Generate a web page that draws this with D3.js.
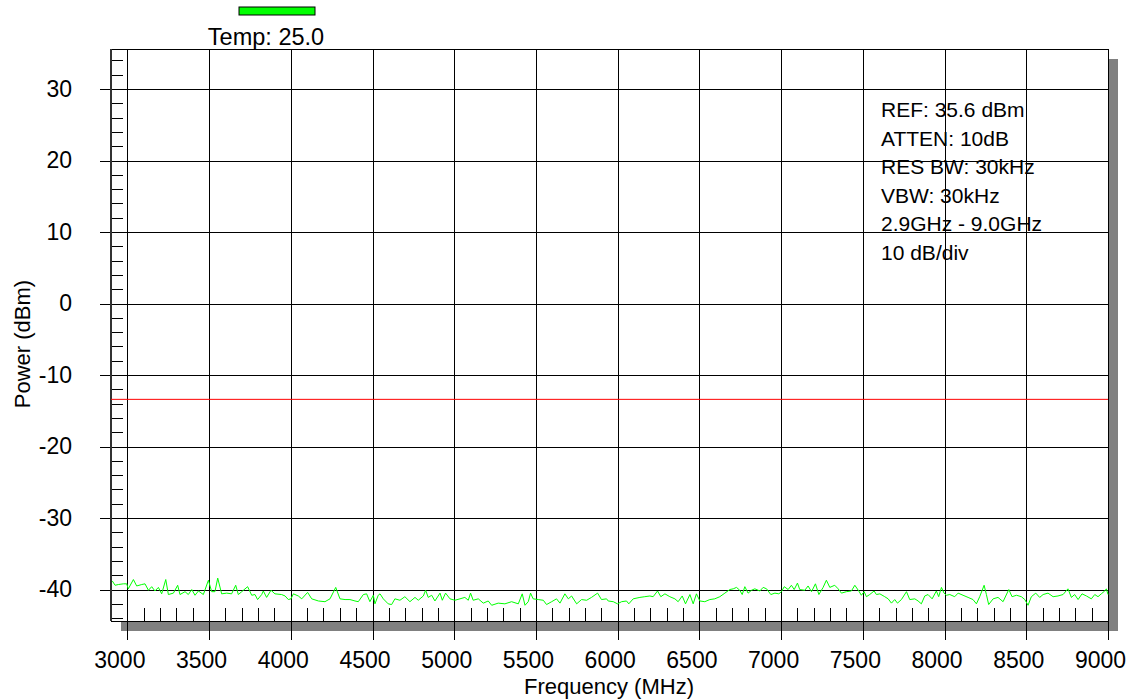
<!DOCTYPE html>
<html>
<head>
<meta charset="utf-8">
<script src="https://cdnjs.cloudflare.com/ajax/libs/d3/7.8.5/d3.min.js"></script>
<style>
  body { margin: 0; background: #fff; }
  text { font-family: "Liberation Sans", Arial, sans-serif; fill: #000; }
</style>
</head>
<body>
<div id="chart-area"></div>
<script>
// spectrum trace
var freqs = [2908, 2925, 2945, 2976, 2996, 3006, 3037, 3057, 3088, 3108, 3129, 3149, 3169, 3190, 3210, 3235,
  3251, 3282, 3308, 3322, 3353, 3373, 3394, 3414, 3435, 3465, 3496, 3516, 3536, 3553, 3577, 3608,
  3638, 3663, 3679, 3700, 3736, 3761, 3781, 3797, 3822, 3832, 3852, 3879, 3903, 3944, 3965, 3985,
  4001, 4016, 4046, 4067, 4103, 4128, 4169, 4209, 4240, 4275, 4301, 4332, 4362, 4393,
  4413, 4444, 4464, 4484, 4505, 4515, 4535, 4546, 4566, 4596, 4617, 4637, 4668, 4698, 4729, 4760,
  4780, 4811, 4825, 4841, 4862, 4882, 4913, 4927, 4947, 4974, 5004, 5035, 5065, 5086, 5100, 5116,
  5147, 5178, 5208, 5229, 5269, 5310, 5351, 5392, 5416, 5433, 5453, 5467, 5483, 5514, 5545, 5565,
  5596, 5626, 5647, 5677, 5698, 5718, 5749, 5779, 5810, 5840, 5877, 5901, 5932,
  5942, 5973, 5999, 6024, 6054, 6068, 6095, 6136, 6166, 6197, 6217, 6244, 6264, 6289, 6319, 6350,
  6370, 6395, 6415, 6442, 6462, 6482, 6503, 6533, 6564, 6594, 6625, 6656, 6686, 6707, 6727, 6747,
  6762, 6778, 6798, 6819, 6839, 6870, 6890, 6911, 6937, 6962, 6986, 7002, 7019, 7043, 7063, 7080,
  7100, 7114, 7145, 7165, 7186, 7210, 7231, 7257, 7277, 7298, 7328, 7349, 7369, 7400, 7430, 7451, 7475,
  7491, 7508, 7522, 7542, 7569, 7583, 7604, 7634, 7655, 7675, 7695, 7712, 7736, 7767, 7787, 7818,
  7838, 7858, 7879, 7899, 7924, 7950, 7964, 7981, 7997, 8011, 8032, 8062, 8083, 8113, 8144, 8174,
  8195, 8215, 8242, 8256, 8270, 8297, 8327, 8358, 8393, 8413, 8440, 8470, 8491, 8511, 8531, 8558,
  8582, 8603, 8633, 8664, 8694, 8725, 8755, 8776, 8796, 8817, 8841, 8868, 8898, 8919, 8939, 8959,
  8980, 8990, 9000];
var powers = [-38.8, -39.4, -39.3, -39.2, -39.2, -39.9, -38.6, -39.5, -39.3, -39.2, -40.1, -39.6, -40.2, -39.7, -40.6, -38.6,
  -40.7, -40.5, -39.4, -40.7, -40.3, -40.7, -40.0, -40.8, -40.2, -40.7, -38.7, -40.3, -40.3, -38.4, -40.6, -40.5,
  -40.6, -39.4, -40.7, -40.3, -39.6, -40.8, -40.7, -41.4, -40.7, -40.2, -41.1, -40.1, -40.6, -40.7, -40.9, -41.4,
  -41.3, -40.6, -40.9, -41.3, -40.4, -41.3, -41.6, -41.7, -41.3, -39.7, -41.3, -41.4, -41.4, -41.6,
  -41.7, -40.7, -40.6, -41.7, -40.8, -42.0, -40.8, -40.6, -41.3, -42.0, -42.1, -41.3, -41.5, -41.0, -41.7, -41.1,
  -41.5, -40.9, -40.1, -41.1, -40.8, -41.6, -40.5, -41.5, -40.5, -41.3, -41.5, -41.3, -41.1, -41.5, -40.5, -41.5,
  -41.3, -41.9, -41.6, -42.2, -41.9, -42.0, -41.7, -42.0, -40.6, -42.2, -41.7, -40.5, -41.3, -41.4, -41.5, -42.1,
  -41.7, -41.3, -41.9, -40.6, -41.3, -40.9, -42.0, -41.4, -41.5, -41.1, -40.5, -41.4, -41.3,
  -41.6, -41.7, -42.0, -41.7, -41.6, -42.0, -41.3, -41.1, -41.0, -40.9, -41.0, -40.2, -41.0, -40.6, -41.0, -41.3,
  -41.7, -40.9, -42.0, -40.7, -42.0, -40.6, -41.6, -41.7, -41.4, -41.3, -41.0, -40.5, -40.0, -39.9, -39.7, -40.1,
  -40.7, -39.6, -40.5, -40.1, -39.9, -40.2, -39.7, -39.9, -40.7, -40.5, -40.6, -40.3, -39.6, -40.0, -39.4, -40.0,
  -39.1, -40.0, -40.1, -39.5, -40.3, -39.2, -40.7, -39.7, -38.7, -39.7, -39.4, -39.9, -40.5, -40.3, -40.2, -39.4, -40.2,
  -40.8, -40.3, -41.0, -40.7, -40.2, -40.7, -40.6, -41.0, -41.3, -41.9, -41.4, -41.9, -41.4, -40.3, -41.4, -41.3,
  -41.6, -42.0, -40.9, -40.7, -41.3, -40.2, -41.0, -39.7, -40.5, -40.8, -40.7, -41.0, -40.5, -40.8, -41.1, -41.4,
  -42.0, -41.0, -39.4, -40.7, -42.1, -41.3, -41.1, -41.7, -40.0, -41.0, -40.8, -41.0, -41.4, -42.2, -41.0, -40.5,
  -41.1, -40.7, -40.5, -41.0, -40.9, -40.7, -39.9, -41.1, -40.7, -41.4, -40.6, -40.9, -41.3, -40.7, -41.0, -40.6,
  -40.2, -39.9, -40.7];

var limitLine = -13.4;
var xTicks = [3000, 3500, 4000, 4500, 5000, 5500, 6000, 6500, 7000, 7500, 8000, 8500, 9000];
var yTicks = [-40, -30, -20, -10, 0, 10, 20, 30];
var infoLines = ["REF: 35.6 dBm", "ATTEN: 10dB", "RES BW: 30kHz", "VBW: 30kHz", "2.9GHz - 9.0GHz", "10 dB/div"];
var legendLabel = "Temp: 25.0";

var width = 1132, height = 700;
var plotL = 111, plotR = 1108, plotT = 49, plotB = 621;

var svg = d3.select("#chart-area").append("svg")
    .attr("width", width)
    .attr("height", height);

var x = d3.scaleLinear().domain([2900, 9000]).range([plotL, plotR]);
var y = d3.scaleLinear().domain([-44.4, 35.6]).range([plotB, plotT]);

// drop shadow + plot box
svg.append("rect")
    .attr("x", plotL + 10).attr("y", plotT + 10)
    .attr("width", plotR - plotL).attr("height", plotB - plotT)
    .attr("fill", "#808080");
svg.append("rect")
    .attr("x", plotL).attr("y", plotT)
    .attr("width", plotR - plotL).attr("height", plotB - plotT)
    .attr("fill", "#fff").attr("stroke", "#000").attr("stroke-width", 1)
    .attr("shape-rendering", "crispEdges");

// plain hyphen for negatives, like the instrument printout
var plain = function(d) { return String(d); };

// vertical grid + frequency labels
var xAxis = svg.append("g")
    .attr("transform", "translate(0,640)")
    .call(d3.axisBottom(x).tickValues(xTicks).tickSize(-(640 - plotT)).tickPadding(12).tickFormat(plain));
// horizontal grid + power labels
var yAxis = svg.append("g")
    .attr("transform", "translate(100,0)")
    .call(d3.axisLeft(y).tickValues(yTicks).tickSize(-(plotR - 100)).tickPadding(28).tickFormat(plain));

// minor ticks inside the box
var yMinor = d3.range(-44, 36, 2).filter(function(d) { return d % 10 != 0; });
var xMinor = d3.range(3100, 9000, 100).filter(function(d) { return d % 500 != 0; });
var yMinorAxis = svg.append("g")
    .attr("transform", "translate(" + plotL + ",0)")
    .call(d3.axisLeft(y).tickValues(yMinor).tickSize(-12).tickFormat(""));
var xMinorAxis = svg.append("g")
    .attr("transform", "translate(0," + plotB + ")")
    .call(d3.axisBottom(x).tickValues(xMinor).tickSize(-13).tickFormat(""));

[xAxis, yAxis, yMinorAxis, xMinorAxis].forEach(function(g) {
    g.select(".domain").remove();
    g.selectAll("line").attr("stroke", "#000").attr("shape-rendering", "crispEdges");
    g.selectAll("text")
        .style("font-family", "'Liberation Sans', Arial, sans-serif")
        .style("font-size", "23px")
        .attr("fill", "#000");
});
// frequency labels sit a little left of their grid line
xAxis.selectAll("text").attr("x", -8);

// thicker left edge
svg.append("line")
    .attr("x1", plotL).attr("x2", plotL).attr("y1", plotT).attr("y2", plotB)
    .attr("stroke", "#333").attr("stroke-width", 2);

// limit line
svg.append("line")
    .attr("x1", plotL).attr("x2", plotR)
    .attr("y1", y(limitLine)).attr("y2", y(limitLine))
    .attr("stroke", "#ff0000").attr("stroke-width", 1);

// trace
var line = d3.line()
    .x(function(d) { return x(d); })
    .y(function(d, i) { return y(powers[i]); });
svg.append("path")
    .datum(freqs)
    .attr("d", line)
    .attr("fill", "none")
    .attr("stroke", "#00ff00")
    .attr("stroke-width", 1);

// settings block
svg.append("g").selectAll("text")
    .data(infoLines)
    .enter().append("text")
    .attr("x", 881)
    .attr("y", function(d, i) { return 117 + i * 28.5; })
    .style("font-size", "21px")
    .text(function(d) { return d; });

// legend
svg.append("rect")
    .attr("x", 239).attr("y", 7).attr("width", 76).attr("height", 8)
    .attr("fill", "#00ff00").attr("stroke", "#000").attr("stroke-width", 1);
svg.append("text")
    .attr("x", 266).attr("y", 45)
    .attr("text-anchor", "middle")
    .style("font-size", "23.5px")
    .text(legendLabel);

// axis titles
svg.append("text")
    .attr("x", 609).attr("y", 694)
    .attr("text-anchor", "middle")
    .style("font-size", "22px")
    .text("Frequency (MHz)");
svg.append("text")
    .attr("transform", "translate(30,344) rotate(-90)")
    .attr("text-anchor", "middle")
    .style("font-size", "22px")
    .text("Power (dBm)");
</script>
</body>
</html>
